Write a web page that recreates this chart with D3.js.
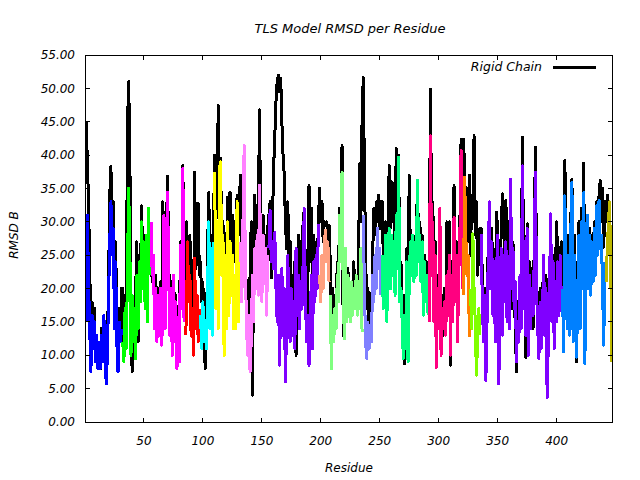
<!DOCTYPE html>
<html><head><meta charset="utf-8">
<script src="https://cdn.jsdelivr.net/npm/d3@7"></script>
<style>
body{margin:0;background:#fff}
svg{display:block}
text{font-family:"DejaVu Sans",sans-serif;font-style:italic;font-size:12px;fill:#000}
</style>
</head><body><svg id="c" width="640" height="480"></svg>
<script>
// Rigid chain RMSD B per residue (residues 1..447)
const rigidB = [
45,39,33,23,14,18,13,17,9,12,8,10,8,14,9,15,11,8,12,21,34,38.3,26,33,16,27,14,9,17,14,20,
20,10,19,14,44,51,41.5,15,7.5,18,14,20,27,12,25,21,32.4,24,28,18,27,19,30,24,
26,21,23,18,22,15,20,16,21,14,33,25,19,28,36.8,24,17,21,15,22,17,19,12,15,13,27,22,38.5,20,
18,30,25,20,28,16,22,13,37.4,23,25,32.8,22,
24,18,21,12,8,13,26,34.4,21,28,19,30,
40,30,33,47.4,36,39.5,26,30,22,28,24,33.7,27,34.4,25,31,24,30,26,34,28,34,
37,25,33,30,26,18,20,15,22,30,4,22,34,28,32,30,46.8,30,22,31,23,28,17.5,29,
31,33,21.6,30,38,43,48,51,52,49.5,51.5,45,40,37,30,26,33,24,27,20,22,18,24,10,22,28,20,27,25,30,32,22,13,20,35.4,24,32,18,28,21,27,23,30,
35,30,33,27,30,29.5,30,27,29.5,
24,16,20,15,19,17,24,22,32,28,41.4,13,20,24,19,23,16,18,21,17,24,18,22,19,24,38.7,30,45,
51.6,38,25,17,20,14,18,15,25,32,28,33,30,34,29,33,
33,25,28,30,20,28,38.4,29,36,30,35.7,27,41,30,40,21.7,24,17,19,8.7,14,26,18,37,25,28,23,27,25,29,35,27,30,25,28,21,25,20,24,18,
21,49.9,30,33,22,27,12,22,16,24,14,19,13,20,16,30,20,30,8.5,24,18,35.4,23,27,16,25,30,42.4,35,
42.4,38,30,35,27,37,
25,34,30,42.9,28,33,22,26,29,
29,22,15,20,10,18,26,30,25,29,20,25,17,31.4,29,13,24,28,34.2,30,25,33.2,22,30,24,33,17,27,20,14,7.5,18,15,21.7,19,42.7,25,21,9.7,29.7,17,24,18,23,14,26,41.2,23,13,14,20,16,18,24,17,22,8,16,22,28,20,25,15,22,30,24,26.2,23,27,
24,20,39.2,27,20,28,18,30,36.4,20,28,21,9,23,30,20,32,25,38.8,15,30,31,25,29,22.7,28,24,30,25,33,28,34,36.2,30,35,26.2,33,
30,34,28,32,21,18
];
// TLS model RMSD B per residue (residues 1..447)
const tlsB = [
15,31,21,14,7.5,16,11,15,9,13,8,12,8,13,9,16,10,5.7,10,19,27,33,25,29,14,24,12,7.5,15,12,14,
12,9,17,11,22,35,27,10,19,12,17,9.5,22,14,24,18,30,20,27,17,28,15,32,22,
30,22,25,14,20,12,19,13,20,11.5,16,31,14,24,34.4,22,13,20,10,22,12,18,8,12,9,26.5,17,38,15,
13,15,27,18,22,13,17,10,24.5,14,19,12,17,
16,11,18,12,14,11,20,30,14,26,13,27,
37.5,17,30,14,38,39,22,28,10,25,14,30,16,27,19,25,14,22,14,33,15,26,
27,18,30,41.5,24,14,10,16,7.5,12,22,15,26,20,28,19,35.5,26,18,28,22,26,16,25,
26,31.7,24,27,23,28.4,20,15,22,8.5,18,23,13,20,6,14,25,16,12,20,13,18,11,26,16,22,14,21,17,24,32,18,12,16,8.5,14,22,11,24,18,25,20,29.7,
22,18,25,20,27,28.7,24,27,21,
19,8,16,12,17,14,22,18,31,24,37.4,20,12.5,26,15,22,18,15,21,16,20,17,22,16,21,17,26,13.5,
31,20,12,9.5,15,11,14,12,22,18,25,20,29,23,26,19,
25,17,22,28,15,25,29,20,28,22,27,19,31,23,39.7,18,20,15,9.5,16,11,24,9,21,27,22,28,21,27,22,36.2,24,28,21,27,16,24,18,22,16,
15,42.9,22,30,15,25,8.2,20,14,32,10,17,14,18,13,22,16,25,10,22,15,30.7,18,25,12,22,28,40.7,20,
19,36.7,28,22,25,12.7,
20,14,28.2,20,15,7,12,17,13,
28.2,18,12,19,6.2,15,24,33,20,27,16,24,12,22,28,5.7,18,26,13,25,18,27,15,22,14,36.4,20,26,17,21,9,15,12,22,14,38.4,17,23,13,29,10,22,14,20,16,24,37.4,20,14,9.5,18,11,15,25,13,20,3.6,12,20,31.2,15,24,11,21,15,24,16,25,19,
20,10.5,33.9,22,14,25,13,28,35.9,12,25,15,9.7,20,28,14,30,20,34.4,8.7,26,31,20,28,19,27,21,29,22,32.4,25,33.2,26,28,20,11.5,24,
21,26,30,33,22,9
];
// TLS groups (residue ranges) and their colours
const groupStart = [1,32,56,85,98,110,132,156,199,208,236,252,292,321,327,336,405,442];
const groupEnd   = [31,55,84,97,109,131,155,198,207,235,251,291,320,326,335,404,441,447];
const groupColors = ["#0000ff","#00ff00","#ff00ff","#ff0000","#00ffff","#ffff00","#ff80ff","#8000ff",
  "#ffa080","#80ff80","#8080ff","#00ff80","#ff0080","#ff8000","#80ff00","#8000ff","#0080ff","#bdb800"];
const xTicks = [50,100,150,200,250,300,350,400];
const yTicks = [0,5,10,15,20,25,30,35,40,45,50,55];

const svg = d3.select("#c");
const L = 85, R = 612, T = 55, B = 422;
const x = d3.scaleLinear().domain([0, 447]).range([L, R]);
const y = d3.scaleLinear().domain([0, 55]).range([B, T]);

svg.append("defs").append("clipPath").attr("id","clip")
  .append("rect").attr("x",L).attr("y",T).attr("width",R-L).attr("height",B-T);

const line = d3.line().x(d => x(d[0])).y(d => y(d[1]));
const plot = svg.append("g").attr("clip-path","url(#clip)");

const rigidPts = rigidB.map((v,i) => [i+1, v]);
plot.append("path").attr("d", line(rigidPts))
  .attr("fill","none").attr("stroke","#000").attr("stroke-width",3)
  .attr("stroke-linejoin","round").attr("shape-rendering","crispEdges");

groupStart.forEach((s, g) => {
  const pts = [];
  for (let r = s; r <= groupEnd[g]; r++) pts.push([r, tlsB[r-1]]);
  plot.append("path").attr("d", line(pts))
    .attr("fill","none").attr("stroke",groupColors[g]).attr("stroke-width",3)
    .attr("stroke-linejoin","round").attr("shape-rendering","crispEdges");
});

// axes: border + inward mirrored ticks
const tl = 4.5;
const ax = svg.append("g").attr("stroke","#000").attr("stroke-width",1).attr("shape-rendering","crispEdges");
ax.append("rect").attr("x",L).attr("y",T).attr("width",R-L).attr("height",B-T).attr("fill","none");
xTicks.forEach(t => {
  ax.append("line").attr("x1",x(t)).attr("x2",x(t)).attr("y1",B).attr("y2",B-tl);
  ax.append("line").attr("x1",x(t)).attr("x2",x(t)).attr("y1",T).attr("y2",T+tl);
});
yTicks.forEach(t => {
  ax.append("line").attr("x1",L).attr("x2",L+tl).attr("y1",y(t)).attr("y2",y(t));
  ax.append("line").attr("x1",R).attr("x2",R-tl).attr("y1",y(t)).attr("y2",y(t));
});

svg.append("g").selectAll("text").data(xTicks).join("text")
  .attr("x", d => x(d)).attr("y", 445).attr("text-anchor","middle").text(d => d);
svg.append("g").selectAll("text").data(yTicks).join("text")
  .attr("x", 75).attr("y", d => y(d)).attr("dy","0.35em").attr("text-anchor","end").text(d => d3.format(".2f")(d));

svg.append("text").attr("x",350).attr("y",33).attr("text-anchor","middle").style("font-size","13px").text("TLS Model RMSD per Residue");
svg.append("text").attr("x",349).attr("y",472).attr("text-anchor","middle").text("Residue");
svg.append("text").attr("transform","translate(18,235) rotate(-90)").attr("text-anchor","middle").text("RMSD B");

// legend
svg.append("text").attr("x",542).attr("y",71).attr("text-anchor","end").style("font-size","12.5px").text("Rigid Chain");
svg.append("line").attr("x1",553).attr("x2",596).attr("y1",67).attr("y2",67)
  .attr("stroke","#000").attr("stroke-width",3).attr("shape-rendering","crispEdges");
</script>
</body></html>
